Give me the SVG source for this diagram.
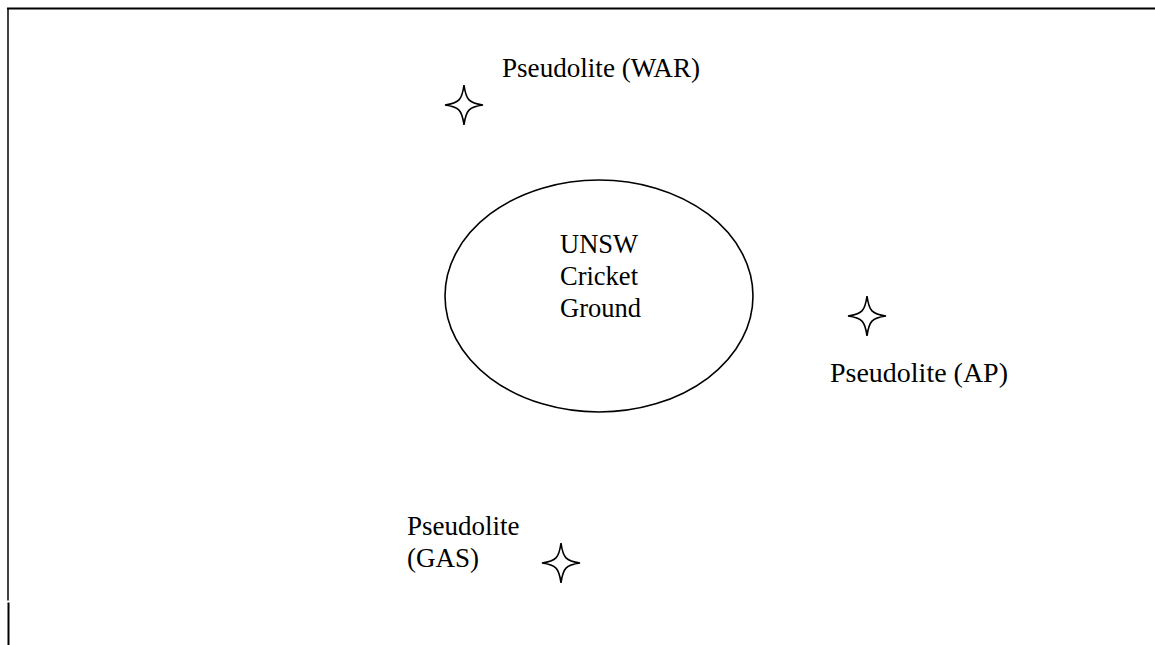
<svg xmlns="http://www.w3.org/2000/svg" width="1155" height="645" viewBox="0 0 1155 645">
  <style>
    .lbl { font-family: 'Liberation Serif', 'Times New Roman', serif; font-size: 27px; fill: #000; }
    .inner { font-size: 26.5px; }
    .star { fill: #fff; stroke: #000; stroke-width: 1.6; stroke-linejoin: miter; }
    .border { stroke: #000; fill: none; }
  </style>
  <defs>
    <path id="star4" d="M0,-20 C2,-5 5,-2 19,0 C5,2 2,5 0,20 C-2,5 -5,2 -19,0 C-5,-2 -2,-5 0,-20 Z"/>
  </defs>
  <rect width="1155" height="645" fill="#fff"/>
  <g id="frame">
    <line class="border" x1="7" y1="8.5" x2="1155" y2="8.5" stroke-width="2"/>
    <line class="border" x1="8" y1="8" x2="8" y2="600.5" stroke-width="1.5"/>
    <line class="border" x1="8.5" y1="602.5" x2="8.5" y2="645" stroke-width="2"/>
  </g>
  <g id="ground">
    <ellipse cx="599" cy="296" rx="154" ry="116" fill="none" stroke="#000" stroke-width="1.6"/>
    <text class="lbl inner" x="560" y="253">UNSW</text>
    <text class="lbl inner" x="560" y="285">Cricket</text>
    <text class="lbl inner" x="560" y="317">Ground</text>
  </g>
  <g id="pseudolite-war">
    <use href="#star4" class="star" x="464" y="105"/>
    <text class="lbl" x="502" y="77" textLength="198" lengthAdjust="spacingAndGlyphs">Pseudolite (WAR)</text>
  </g>
  <g id="pseudolite-ap">
    <use href="#star4" class="star" x="867" y="316"/>
    <text class="lbl" x="830" y="382" textLength="178" lengthAdjust="spacingAndGlyphs">Pseudolite (AP)</text>
  </g>
  <g id="pseudolite-gas">
    <use href="#star4" class="star" x="561" y="563"/>
    <text class="lbl" x="407" y="535">Pseudolite</text>
    <text class="lbl" x="407" y="567">(GAS)</text>
  </g>
  <g id="connectors"></g>
</svg>
